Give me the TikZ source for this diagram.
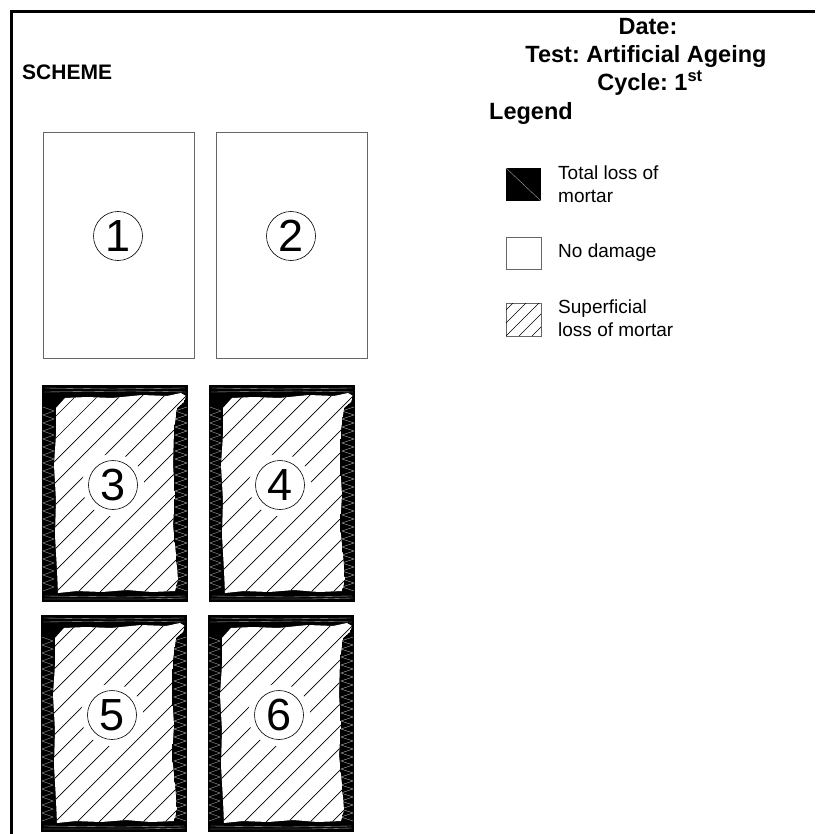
\documentclass[tikz,border=0pt]{standalone}
\usepackage{fontspec}
\setmainfont{Liberation Sans}
\frenchspacing

% contorno irregular de la zona con perdida superficial
\newcommand{\losspath}{(14,23) -- (23,13) -- (45,12) -- (70,13) -- (100,10) -- (125,11) -- (139,8) -- (144,11) -- (142,17) -- (135,23) -- (132,45) -- (131,80) -- (133,110) -- (131,140) -- (134,170) -- (136,195) -- (133,206) -- (110,207) -- (85,205) -- (60,207) -- (35,206) -- (16,208) -- (15,185) -- (13,150) -- (14,115) -- (12,80) -- (14,50) -- cycle}

% panel danado: #1,#2 esquina, #3 numero, #4 nombre
\newcommand{\damagedpanel}[4]{
  \begin{scope}[shift={(#1,#2)}]
    \fill (0,0) rectangle (146,217);
    \draw[texture] (3,3) -- (70,4) -- (143,3);
    \draw[texture] (2,7) -- (90,6) -- (144,7);
    \draw[texture] (3,211) -- (80,212) -- (143,211);
    \draw[texture] (2,214) -- (100,214) -- (144,213);
    \foreach \t in {22,30,...,198} {
      \draw[texture] (1,\t) -- (12,\t+4) -- (1,\t+8);
      \draw[texture] (145,\t) -- (133,\t+4) -- (145,\t+8);
    }
    \begin{scope}
      \clip \losspath;
      \fill[white] \losspath;
      \foreach \k in {-216,-194,...,146}
        \draw[hatchline] (\k,217) -- ++(300,-300);
    \end{scope}
    \fill[white] (71,100) circle (31);
    \node[numcircle] (#4) at (71,100) {#3};
  \end{scope}
}

\begin{document}
\begin{tikzpicture}[
    x=1pt, y=-1pt,
    title/.style={font=\fontsize{23.5}{28}\selectfont\bfseries, inner sep=0pt},
    legtext/.style={font=\fontsize{19}{23}\selectfont, inner sep=0pt, align=left},
    panel/.style={draw=black!60, line width=0.9pt},
    numcircle/.style={circle, draw, line width=0.6pt, fill=white, minimum size=49pt, inner sep=0pt, font=\fontsize{45}{45}\selectfont},
    hatchline/.style={line width=0.7pt},
    texture/.style={draw=gray!60, line width=0.35pt}
]
  \useasboundingbox (0,0) rectangle (815,834);

  % Marco
  \draw[line width=2.4pt] (11.5,834) -- (11.5,11.5) -- (815,11.5);

  % Cabecera
  \node[title, font=\fontsize{21}{25}\selectfont\bfseries, anchor=base west] (scheme) at (22,80) {SCHEME};
  \node[title, anchor=base] (date)  at (648,35) {Date:};
  \node[title, anchor=base] (test)  at (646,63) {Test: Artificial Ageing};
  \node[title, anchor=base] (cycle) at (650,91) {Cycle: 1\textsuperscript{st}};
  \node[title, anchor=base west] (legend) at (489,120) {Legend};

  % Leyenda
  \fill (506,168) rectangle (541,201);
  \draw[gray!70, line width=0.4pt] (506,168) -- (541,201);
  \node[legtext, anchor=north west] (legtotal) at (558,166) {Total loss of\\mortar};

  \draw[panel] (506,237) rectangle (541,269);
  \node[legtext, anchor=base west] (legnone) at (558,257) {No damage};

  \draw[panel] (506,303) rectangle (541,336);
  \begin{scope}
    \clip (506,303) rectangle (541,336);
    \foreach \k in {-39,-26,...,39}
      \draw[line width=0.6pt] (506+\k,336) -- ++(40,-40);
  \end{scope}
  \node[legtext, anchor=north west] (legsuper) at (558,300) {Superficial\\loss of mortar};

  % Paneles sin dano
  \draw[panel] (43,132) rectangle (194,358);
  \node[numcircle] (p1) at (118,236) {1};
  \draw[panel] (216,132) rectangle (367,358);
  \node[numcircle] (p2) at (291,236) {2};

  % Paneles con perdida de mortero
  \foreach \px/\py/\n in {42/385/3, 209/385/4, 41/615/5, 208/615/6} {
    \damagedpanel{\px}{\py}{\n}{p\n}
  }

\end{tikzpicture}
\end{document}
